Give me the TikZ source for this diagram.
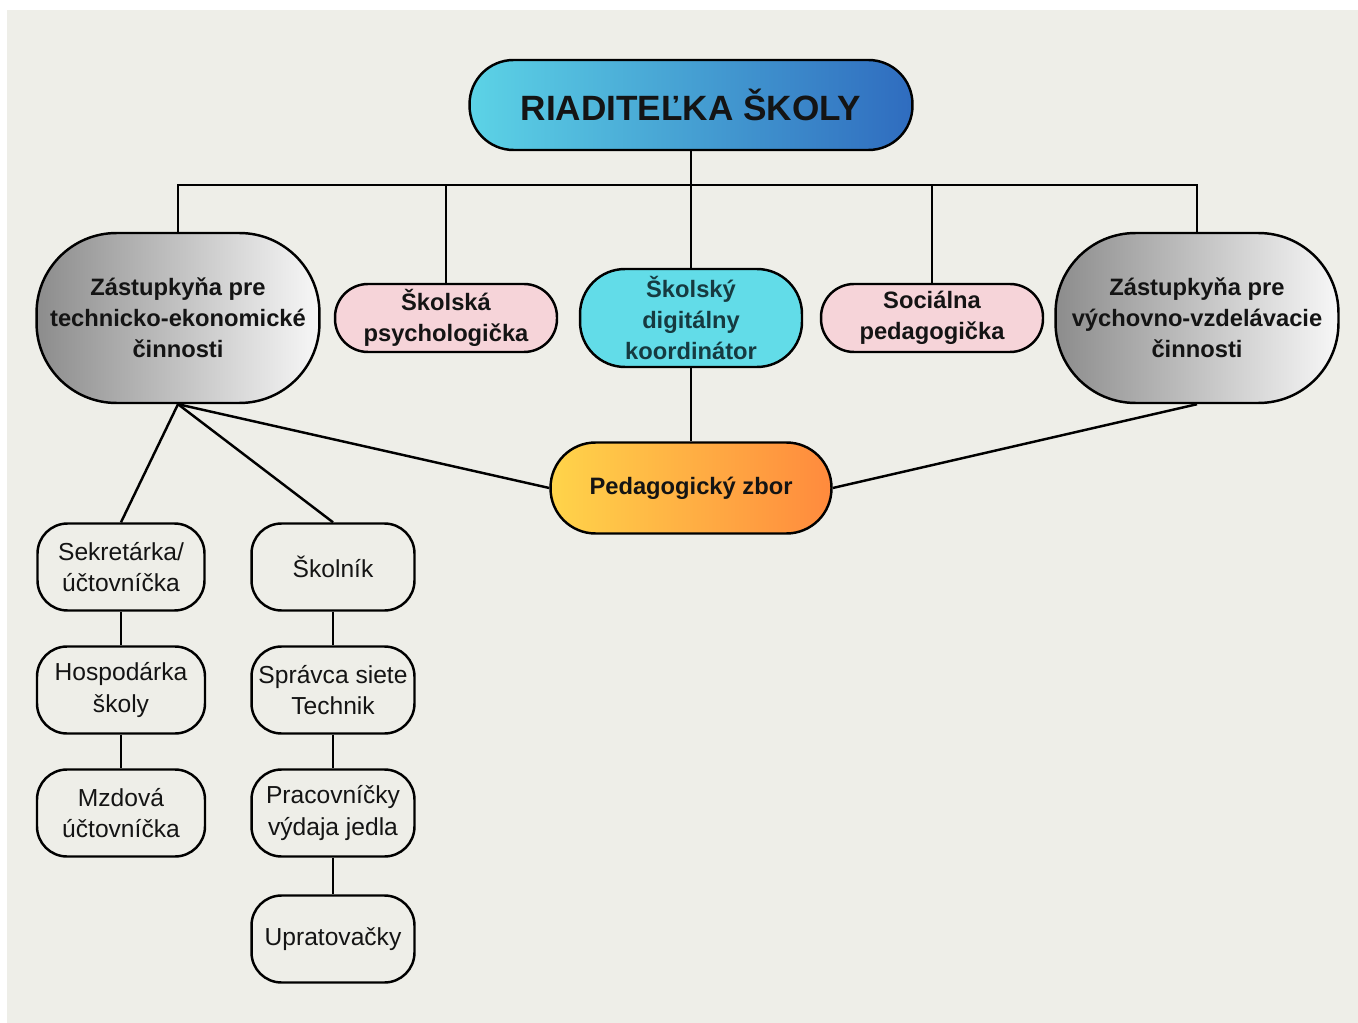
\documentclass[tikz,border=0pt]{standalone}
\usepackage{fontspec}
\setmainfont{Liberation Sans}
\usepackage{xcolor}
\usepackage{tikz}
\definecolor{paper}{HTML}{EEEEE8}
\definecolor{headL}{HTML}{5CD3E6}
\definecolor{headR}{HTML}{2F6CBF}
\definecolor{pinkbox}{HTML}{F6D4D9}
\definecolor{cyanbox}{HTML}{62DCE8}
\definecolor{zborL}{HTML}{FFD44A}
\definecolor{zborR}{HTML}{FF8A3D}
\definecolor{darkteal}{HTML}{163A40}

\begin{document}
\begin{tikzpicture}[
  x=0.02cm, y=-0.02cm,
  box/.style={draw=black, line width=1.4pt, align=center, inner sep=1pt, text=black!92},
  head/.style={box, rounded corners=0.88cm, minimum width=8.86cm, minimum height=1.8cm,
               left color=headL, right color=headR, font=\fontsize{20}{24}\selectfont\bfseries},
  deputy/.style={box, rounded corners=1.6cm, minimum width=5.66cm, minimum height=3.4cm,
                 left color=black!45, right color=black!3, font=\fontsize{13.5}{17.5}\selectfont\bfseries},
  advisor/.style={box, rounded corners=0.66cm, minimum width=4.44cm, minimum height=1.36cm,
                  fill=#1, font=\fontsize{13.5}{17.5}\selectfont\bfseries},
  staff/.style={box, rounded corners=0.6cm, minimum width=#1, minimum height=1.74cm,
                font=\fontsize{14}{18}\selectfont},
  link/.style={line width=1.4pt}
]
  \useasboundingbox (0,0) rectangle (1358,1023);
  \fill[paper] (7,10) rectangle (1358,1023);

  \node[head] (head) at (691,105) {RIADITEĽKA ŠKOLY};
  \node[deputy] (tech) at (178,318) {Zástupkyňa pre\\technicko-ekonomické\\činnosti};
  \node[deputy] (edu) at (1197,318) {Zástupkyňa pre\\výchovno-vzdelávacie\\činnosti};
  \node[advisor=pinkbox] (psych) at (446,318) {Školská\\psychologička};
  \node[advisor=cyanbox, rounded corners=0.9cm, minimum height=1.96cm, text=darkteal] (digi) at (691,318) {Školský\\digitálny\\koordinátor};
  \node[advisor=pinkbox] (social) at (932,318) {Sociálna\\pedagogička};
  \node[box, rounded corners=0.9cm, minimum width=5.62cm, minimum height=1.82cm,
        left color=zborL, right color=zborR, font=\fontsize{13.5}{17.5}\selectfont\bfseries] (zbor) at (691,488) {Pedagogický zbor};

  \node[staff=3.34cm] (secr) at (121,567) {Sekretárka/\\účtovníčka};
  \node[staff=3.36cm] (hosp) at (121,690) {Hospodárka\\školy};
  \node[staff=3.36cm] (mzda) at (121,813) {Mzdová\\účtovníčka};
  \node[staff=3.26cm] (skol) at (333,567) {Školník};
  \node[staff=3.26cm] (siet) at (333,690) {Správca siete\\Technik};
  \node[staff=3.26cm] (jedlo) at (333,813) {Pracovníčky\\výdaja jedla};
  \node[staff=3.26cm] (uprat) at (333,939) {Upratovačky};

  \coordinate (busL) at (178,185);
  \coordinate (busR) at (1197,185);

  \draw[link] (tech.north) -- (busL) -- (busR) -- (edu.north);
  \draw[link] (head.south) -- (digi.north);
  \draw[link] (psych.north) -- (psych.north |- busL);
  \draw[link] (social.north) -- (social.north |- busL);
  \draw[link] (digi.south) -- (zbor.north);
  \draw[link] (tech.south) -- (zbor.west);
  \draw[link] (edu.south) -- (zbor.east);
  \draw[link] (tech.south) -- (secr.north);
  \draw[link] (tech.south) -- (skol.north);
  \draw[link] (secr) -- (hosp);
  \draw[link] (hosp) -- (mzda);
  \draw[link] (skol) -- (siet);
  \draw[link] (siet) -- (jedlo);
  \draw[link] (jedlo) -- (uprat);
\end{tikzpicture}
\end{document}
